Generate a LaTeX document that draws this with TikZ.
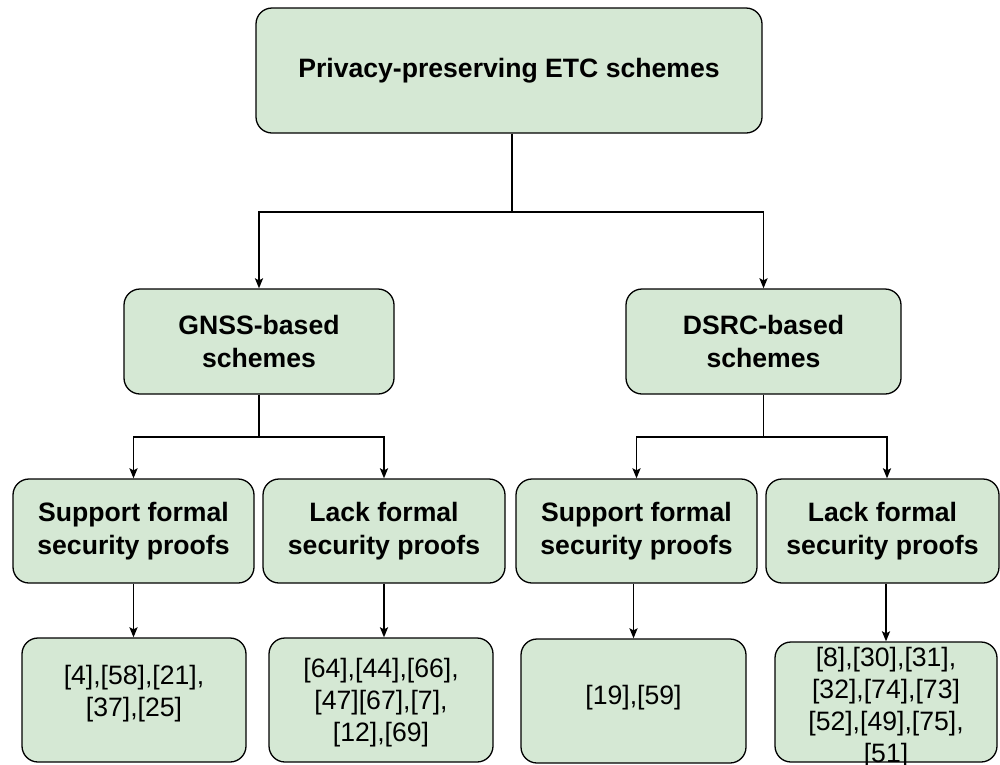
\documentclass[tikz,border=0pt]{standalone}
\usepackage{fontspec}
\setmainfont{Liberation Sans}
\usetikzlibrary{arrows.meta}
\definecolor{boxfill}{HTML}{D5E8D4}
\begin{document}
\begin{tikzpicture}[x=1pt,y=-1pt,
  box/.style={draw=black, fill=boxfill, line width=1.3pt, rounded corners=16pt,
    align=center, inner sep=0pt, font=\fontsize{26.6}{32.5}\selectfont},
  head/.style={box, font=\fontsize{26.6}{32.5}\selectfont\bfseries},
  reftext/.style={align=center, inner sep=0pt, font=\fontsize{26.6}{32}\selectfont},
  arr/.style={line width=1.9pt, -{Stealth[length=10pt,width=8pt,inset=2pt]}},
  ]
\useasboundingbox (0,0) rectangle (1000,764);
% level 1
\node[head, minimum width=506pt, minimum height=125pt] (top) at (509,70.5) {Privacy-preserving ETC schemes};
% level 2
\node[head, minimum width=270pt, minimum height=105pt] (gnss) at (259,341.5) {GNSS-based\\schemes};
\node[head, minimum width=275pt, minimum height=105pt] (dsrc) at (763.5,341.5) {DSRC-based\\schemes};
% level 3
\node[head, minimum width=241pt, minimum height=104pt] (b1) at (133.5,531) {\rule{0pt}{3pt}Support formal\\security proofs};
\node[head, minimum width=242pt, minimum height=104pt] (b2) at (384,531) {\rule{0pt}{3pt}Lack formal\\security proofs};
\node[head, minimum width=241pt, minimum height=104pt] (b3) at (636.5,531) {\rule{0pt}{3pt}Support formal\\security proofs};
\node[head, minimum width=233pt, minimum height=104pt] (b4) at (882.5,531) {\rule{0pt}{3pt}Lack formal\\security proofs};
% level 4 boxes
\node[box, minimum width=224pt, minimum height=124pt] (c1) at (134,700) {};
\node[box, minimum width=224pt, minimum height=124pt] (c2) at (381,700) {};
\node[box, minimum width=225pt, minimum height=124pt] (c3) at (633.5,701) {};
\node[box, minimum width=222pt, minimum height=120pt] (c4) at (886,702) {};
% level 4 texts
\node[reftext] (c1t) at (134,694) {[4],[58],[21],\\{}[37],[25]};
\node[reftext] (c2t) at (381,703) {[64],[44],[66],\\{}[47][67],[7],\\{}[12],[69]};
\node[reftext] (c3t) at (633.5,698) {[19],[59]};
\node[reftext] (c4t) at (886,708) {[8],[30],[31],\\{}[32],[74],[73]\\{}[52],[49],[75],\\{}[51]};
% connectors
\draw[arr] ([xshift=3pt]top.south) -- ++(0,78) -| (gnss.north);
\draw[arr] ([xshift=3pt]top.south) -- ++(0,78) -| (dsrc.north);
\draw[arr] (gnss.south) -- ++(0,42) -| (b1.north);
\draw[arr] (gnss.south) -- ++(0,42) -| (b2.north);
\draw[arr] (dsrc.south) -- ++(0,42) -| (b3.north);
\draw[arr] (dsrc.south) -- ++(0,42) -| ([xshift=4.5pt]b4.north);
\draw[arr] (b1.south) -- (b1.south |- c1.north);
\draw[arr] (b2.south) -- (b2.south |- c2.north);
\draw[arr] (c3.north |- b3.south) -- (c3.north);
\draw[arr] (c4.north |- b4.south) -- (c4.north);
\end{tikzpicture}
\end{document}
